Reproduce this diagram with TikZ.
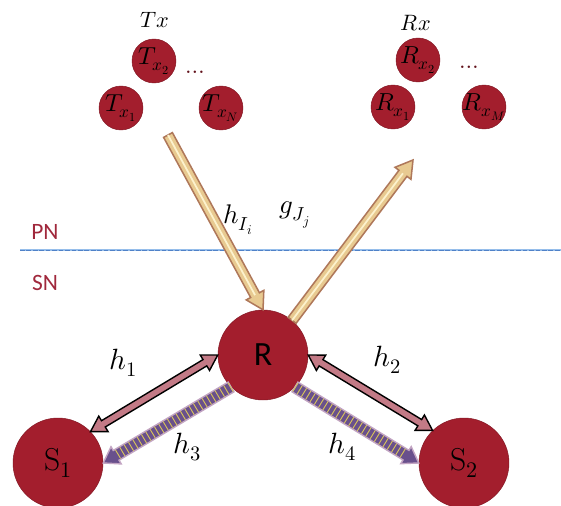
\documentclass[tikz,border=0pt]{standalone}
\usepackage{fontspec}
\usepackage{unicode-math}
\setmathfont{Latin Modern Math}
\newfontfamily\carlito{Carlito}
\usetikzlibrary{calc}
\definecolor{nodered}{RGB}{163,30,45}
\definecolor{labred}{RGB}{160,40,60}
\definecolor{tanline}{RGB}{175,120,90}
\definecolor{cream}{RGB}{232,202,145}
\definecolor{creamlight}{RGB}{252,242,205}
\definecolor{pinkfill}{RGB}{195,122,134}
\definecolor{purplefill}{RGB}{105,80,140}
\definecolor{purpleedge}{RGB}{195,165,195}
\definecolor{stripe}{RGB}{215,195,90}
\definecolor{pnblue}{RGB}{150,190,235}
\definecolor{pndark}{RGB}{80,130,200}
\newcommand\onearrow[6]{%
 \coordinate (faA) at (#2);
 \coordinate (faB) at (#3);
 \coordinate (faC) at ($(faB)!#6!(faA)$);
 \path[#1] ($(faA)!#4!90:(faB)$) -- ($(faC)!#4!90:(faB)$) -- ($(faC)!#5!90:(faB)$) -- (faB) -- ($(faC)!#5!-90:(faB)$) -- ($(faC)!#4!-90:(faB)$) -- ($(faA)!#4!-90:(faB)$) -- cycle;
}
\newcommand\twoarrow[6]{%
 \coordinate (faA) at (#2);
 \coordinate (faB) at (#3);
 \coordinate (faC) at ($(faB)!#6!(faA)$);
 \coordinate (faD) at ($(faA)!#6!(faB)$);
 \path[#1] (faA) -- ($(faD)!#5!90:(faB)$) -- ($(faD)!#4!90:(faB)$) -- ($(faC)!#4!90:(faB)$) -- ($(faC)!#5!90:(faB)$) -- (faB) -- ($(faC)!#5!-90:(faB)$) -- ($(faC)!#4!-90:(faB)$) -- ($(faD)!#4!-90:(faB)$) -- ($(faD)!#5!-90:(faB)$) -- cycle;
}
\newcommand\cbox[1]{\makebox[0pt]{#1}}
\tikzset{
 smallnode/.style={circle, fill=nodered, draw=nodered!80!black, minimum size=1.32cm, inner sep=0pt, font=\fontsize{21}{23}\selectfont},
 bignode/.style={circle, fill=nodered, draw=nodered!80!black, minimum size=2.7cm, inner sep=0pt},
 grouplabel/.style={font=\fontsize{19}{21}\selectfont},
 netlabel/.style={text=labred, font=\carlito\fontsize{20}{22}\selectfont},
 chanlabel/.style={font=\fontsize{25}{27}\selectfont},
 pnarrow/.style={fill=cream, draw=tanline, line width=1.3pt, line join=miter},
 pinkarrow/.style={fill=pinkfill, draw=black, line width=1.2pt},
 purplearrow/.style={fill=purplefill, draw=purpleedge, line width=1.2pt},
 dotslabel/.style={text=nodered!60!black, font=\fontsize{20}{22}\selectfont}
}
\begin{document}
\begin{tikzpicture}[x=0.03cm,y=-0.03cm]
\useasboundingbox (0,0) rectangle (561,506);
% divider
\coordinate (pnL) at (20,250);
\coordinate (pnR) at (561,250);
\draw[pnblue, line width=2.4pt] (pnL) -- (pnR);
\draw[pndark, line width=0.8pt, dash pattern=on 4pt off 1.5pt] (pnL) -- (pnR);
\node[netlabel] (PN) at (45,232) {PN};
\node[netlabel] (SN) at (45,283) {SN};
% primary nodes
\node[grouplabel] (Tx) at (155,20) {$Tx$};
\node[smallnode] (Tx2) at (154,61) {\cbox{$T_{x_2}$}};
\node[smallnode] (Tx1) at (121,108) {\cbox{$T_{x_1}$}};
\node[smallnode] (TxN) at (221,108) {\cbox{$T_{x_N}$}};
\node[dotslabel] (Tdots) at (197,72) {$\dots$};
\node[grouplabel] (Rx) at (416,23) {$Rx$};
\node[smallnode] (Rx2) at (418,60) {\cbox{$R_{x_2}$}};
\node[smallnode] (Rx1) at (393,107) {\cbox{$R_{x_1}$}};
\node[smallnode] (RxM) at (484,107) {\cbox{$R_{x_M}$}};
\node[dotslabel] (Rdots) at (471,67) {$\dots$};
% secondary nodes
\node[bignode, font=\carlito\fontsize{29}{31}\selectfont] (R) at (263,355) {R};
\node[bignode, font=\fontsize{27}{29}\selectfont] (S1) at (58,463) {$\mathrm{S}_1$};
\node[bignode, font=\fontsize{27}{29}\selectfont] (S2) at (464,463) {$\mathrm{S}_2$};
% interference arrows
\coordinate (hIs) at (168,135);
\coordinate (gE) at (413,160);
\onearrow{pnarrow}{hIs}{R.north}{0.15cm}{0.3cm}{0.5cm}
\draw[creamlight, line width=1.5pt] (faA) -- (faC);
\onearrow{pnarrow}{R.50}{gE}{0.15cm}{0.3cm}{0.5cm}
\draw[creamlight, line width=1.5pt] (faA) -- (faC);
\node[font=\fontsize{23}{25}\selectfont] (hI) at (238,220) {$h_{I_i}$};
\node[font=\fontsize{23}{25}\selectfont] (gJ) at (295,215) {$g_{J_j}$};
% secondary links
\twoarrow{pinkarrow}{R.180}{S1.44}{0.11cm}{0.27cm}{0.45cm}
\twoarrow{pinkarrow}{R.0}{S2.134}{0.11cm}{0.27cm}{0.45cm}
\onearrow{purplearrow}{R.225}{S1.0}{0.17cm}{0.3cm}{0.45cm}
\draw[stripe, line width=0.3cm, dash pattern=on 0.8pt off 3.5pt] (faA) -- (faC);
\onearrow{purplearrow}{R.-45}{S2.180}{0.17cm}{0.3cm}{0.45cm}
\draw[stripe, line width=0.3cm, dash pattern=on 0.8pt off 3.5pt] (faA) -- (faC);
\node[chanlabel] (h1) at (123,363) {$h_1$};
\node[chanlabel] (h3) at (187,447) {$h_3$};
\node[chanlabel] (h2) at (387,360) {$h_2$};
\node[chanlabel] (h4) at (342,447) {$h_4$};
\end{tikzpicture}
\end{document}
